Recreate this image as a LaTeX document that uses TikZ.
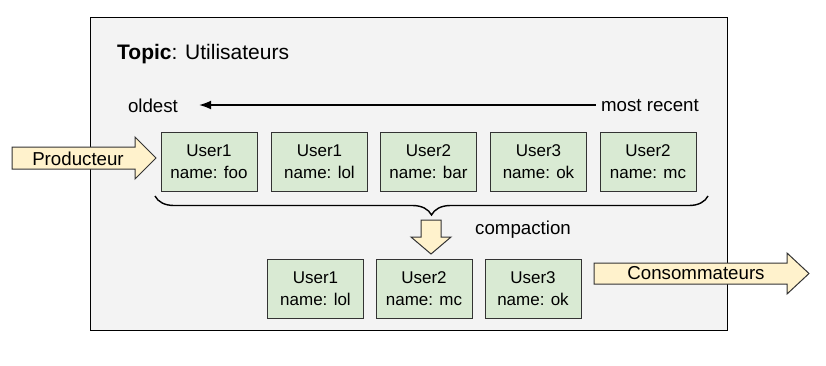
\documentclass[tikz,border=0pt]{standalone}
\usepackage{fontspec}
\setmainfont{Liberation Sans}
\usetikzlibrary{decorations.pathreplacing,arrows.meta}
\definecolor{framefill}{HTML}{F3F3F3}
\definecolor{boxfill}{HTML}{D9EAD3}
\definecolor{arrowfill}{HTML}{FFF2CC}
\definecolor{edge}{HTML}{333333}
\tikzset{
  msg/.style={draw=edge, fill=boxfill, line width=0.9pt, minimum width=96pt, minimum height=59pt, align=center, inner sep=0pt, font=\fontsize{17}{21.5}\selectfont},
  fatarrow/.style={draw=edge, fill=arrowfill, line width=1pt, line join=miter},
  lbl/.style={font=\fontsize{18.7}{22}\selectfont, inner sep=0pt},
}
\begin{document}
\begin{tikzpicture}[x=1pt,y=-1pt]
\useasboundingbox (0,0) rectangle (826,365);
% frame
\draw[fill=framefill, draw=black, line width=1pt] (90,17) rectangle (727,330);
\node[lbl, anchor=west, font=\fontsize{21}{24}\selectfont] (topic) at (117,54) {\textbf{Topic}: Utilisateurs};
% time arrow
\node[lbl] (oldest) at (153,106) {oldest};
\node[lbl] (recent) at (650,106) {most recent};
\draw[-{Latex[length=12pt,width=9pt]}, line width=1.4pt] ([xshift=-5pt,yshift=1pt]recent.west) -- ([xshift=21pt,yshift=1pt]oldest.east);
% top row
\node[msg] (t1) at (209,161.5) {User1\\name: foo};
\node[msg] (t2) at (319.5,161.5) {User1\\name: lol};
\node[msg] (t3) at (428.5,161.5) {User2\\name: bar};
\node[msg] (t4) at (538.5,161.5) {User3\\name: ok};
\node[msg] (t5) at (648,161.5) {User2\\name: mc};
% bottom row
\node[msg] (b1) at (315.5,288.5) {User1\\name: lol};
\node[msg] (b2) at (424,288.5) {User2\\name: mc};
\node[msg] (b3) at (533,288.5) {User3\\name: ok};
% brace
\coordinate (brR) at (708,196);
\coordinate (brL) at (155,196);
\draw[line width=1.4pt, decorate, decoration={brace, amplitude=19pt, aspect=0.5}] (brR) -- (brL);
% compaction arrow
\draw[fatarrow] (421,220) -- (441,220) -- (441,237) -- (451,237) -- (431,254) -- (411,237) -- (421,237) -- cycle;
\node[lbl] (compaction) at (523,230) {compaction};
% producer arrow
\draw[fatarrow] (12,147) -- (135,147) -- (135,137) -- (156,158) -- (135,179) -- (135,169) -- (12,169) -- cycle;
\node[lbl] (prod) at (78,158.5) {Producteur};
% consumer arrow
\draw[fatarrow] (594,263) -- (787,263) -- (787,253) -- (809,273.5) -- (787,294) -- (787,284) -- (594,284) -- cycle;
\node[lbl] (cons) at (696,273.5) {Consommateurs};
\end{tikzpicture}
\end{document}
